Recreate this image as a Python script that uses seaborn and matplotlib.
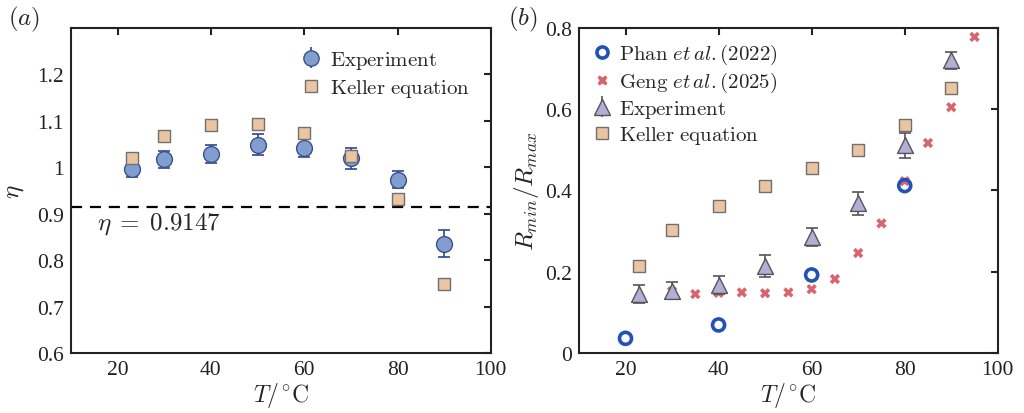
import numpy as np
import pandas as pd
import matplotlib
matplotlib.use("Agg")
import matplotlib.pyplot as plt
import seaborn as sns

sns.set_theme(style="white")
plt.rcParams['font.family'] = ['Liberation Serif', 'DejaVu Serif']
plt.rcParams['mathtext.fontset'] = 'cm'

# ---- Panel (a) data ----
T_a = [23, 30, 40, 50, 60, 70, 80, 90]
eta_exp = [0.997, 1.017, 1.029, 1.049, 1.041, 1.019, 0.973, 0.835]
eta_err = [0.017, 0.019, 0.019, 0.022, 0.019, 0.022, 0.018, 0.029]
eta_keller = [1.019, 1.068, 1.090, 1.093, 1.074, 1.024, 0.932, 0.748]
eta_line = 0.9147

# ---- Panel (b) data ----
T_phan = [20, 40, 60, 80]
r_phan = [0.036, 0.069, 0.192, 0.412]
T_geng = [30, 35, 40, 45, 50, 55, 60, 65, 70, 75, 80, 85, 90, 95]
r_geng = [0.152, 0.145, 0.148, 0.149, 0.147, 0.149, 0.157, 0.182, 0.246, 0.319, 0.423, 0.517, 0.605, 0.778]
T_b = [23, 30, 40, 50, 60, 70, 80, 90]
r_exp = [0.145, 0.153, 0.168, 0.214, 0.286, 0.368, 0.511, 0.720]
r_err = [0.022, 0.021, 0.022, 0.028, 0.022, 0.028, 0.030, 0.020]
r_keller = [0.214, 0.303, 0.362, 0.411, 0.455, 0.500, 0.562, 0.653]

xticks = [20, 40, 60, 80, 100]

c_exp_fill = '#809FD0'
c_exp_edge = '#3A4F8C'
c_err_a = '#2E4690'
c_keller = '#EBC4A2'
c_keller_edge = '#707070'
c_phan = '#2451B5'
c_geng = '#D9646E'
c_tri = '#B4AED6'
c_tri_edge = '#555555'

fig = plt.figure(figsize=(10.24, 4.14), dpi=100)
axA = fig.add_axes([0.0693, 0.145, 0.410, 0.785])
axB = fig.add_axes([0.5654, 0.145, 0.409, 0.785])

fs_tick = 15.5
fs_lab = 17
fs_leg = 15

# ---------- Panel (a) ----------
dfa = pd.DataFrame({'T': T_a, 'exp': eta_exp, 'err': eta_err, 'keller': eta_keller})
axA.axhline(eta_line, color='black', ls=(0, (5, 3.5)), lw=1.6, zorder=1)
axA.errorbar(dfa['T'], dfa['exp'], yerr=dfa['err'], fmt='none', ecolor=c_err_a,
             elinewidth=1.2, capsize=4.5, capthick=1.2, zorder=2)
sns.scatterplot(data=dfa, x='T', y='exp', ax=axA, marker='o', s=130, color=c_exp_fill,
                edgecolor=c_exp_edge, linewidth=1.0, zorder=3, legend=False)
sns.scatterplot(data=dfa, x='T', y='keller', ax=axA, marker='s', s=85, color=c_keller,
                edgecolor=c_keller_edge, linewidth=1.0, zorder=4, legend=False)
axA.set_xlim(10, 100)
axA.set_ylim(0.6, 1.3)
axA.set_xticks(xticks)
axA.set_yticks([0.6, 0.7, 0.8, 0.9, 1.0, 1.1, 1.2])
axA.set_yticklabels(['0.6', '0.7', '0.8', '0.9', '1', '1.1', '1.2'])
axA.set_xlabel(r'$T/^{\circ}\mathrm{C}$', fontsize=fs_lab, labelpad=1)
axA.set_ylabel(r'$\eta$', fontsize=fs_lab + 1, labelpad=8)
axA.text(15.5, 0.879, r'$\eta\;=\;0.9147$', fontsize=18, ha='left', va='center')

hA1 = axA.errorbar([], [], yerr=[], fmt='o', ms=11, mfc=c_exp_fill, mec=c_exp_edge,
                   ecolor=c_err_a, capsize=4.5, elinewidth=1.2)
hA2 = plt.Line2D([], [], ls='none', marker='s', ms=9, mfc=c_keller, mec=c_keller_edge)
axA.legend([hA1, hA2], [r'$\mathrm{Experiment}$', r'$\mathrm{Keller\ equation}$'],
           loc='upper left', bbox_to_anchor=(0.548, 0.935), frameon=False,
           fontsize=fs_leg, handlelength=1.0, handletextpad=0.4, labelspacing=0.28,
           borderpad=0, borderaxespad=0)
axA.text(-0.15, 1.028, r'$(a)$', transform=axA.transAxes, fontsize=18, ha='left', va='center')

# ---------- Panel (b) ----------
dfb = pd.DataFrame({'T': T_b, 'exp': r_exp, 'err': r_err, 'keller': r_keller})
dfp = pd.DataFrame({'T': T_phan, 'r': r_phan})
dfg = pd.DataFrame({'T': T_geng, 'r': r_geng})

sns.scatterplot(data=dfg, x='T', y='r', ax=axB, marker='X', s=55, color=c_geng,
                edgecolor='none', zorder=2, legend=False)
axB.errorbar(dfb['T'], dfb['exp'], yerr=dfb['err'], fmt='none', ecolor=c_tri_edge,
             elinewidth=1.2, capsize=4.5, capthick=1.2, zorder=3)
sns.scatterplot(data=dfb, x='T', y='exp', ax=axB, marker='^', s=130, color=c_tri,
                edgecolor=c_tri_edge, linewidth=1.0, zorder=4, legend=False)
sns.scatterplot(data=dfb, x='T', y='keller', ax=axB, marker='s', s=85, color=c_keller,
                edgecolor=c_keller_edge, linewidth=1.0, zorder=4, legend=False)
sns.scatterplot(data=dfp, x='T', y='r', ax=axB, marker='o', s=75, facecolor='none',
                edgecolor=c_phan, linewidth=2.6, zorder=5, legend=False)
axB.set_xlim(10, 100)
axB.set_ylim(0, 0.8)
axB.set_xticks(xticks)
axB.set_yticks([0, 0.2, 0.4, 0.6, 0.8])
axB.set_yticklabels(['0', '0.2', '0.4', '0.6', '0.8'])
axB.set_xlabel(r'$T/^{\circ}\mathrm{C}$', fontsize=fs_lab, labelpad=1)
axB.set_ylabel(r'$R_{min}/R_{max}$', fontsize=fs_lab + 1, labelpad=3)

hB1 = plt.Line2D([], [], ls='none', marker='o', ms=8, mfc='none', mec=c_phan, mew=2.6)
hB2 = plt.Line2D([], [], ls='none', marker='X', ms=7.5, mfc=c_geng, mec='none')
hB3 = axB.errorbar([], [], yerr=[], fmt='^', ms=11, mfc=c_tri, mec=c_tri_edge,
                   ecolor=c_tri_edge, capsize=4.5, elinewidth=1.2)
hB4 = plt.Line2D([], [], ls='none', marker='s', ms=9, mfc=c_keller, mec=c_keller_edge)
axB.legend([hB1, hB2, hB3, hB4],
           [r'$\mathrm{Phan}\ et\,al.\mathrm{(2022)}$', r'$\mathrm{Geng}\ et\,al.\mathrm{(2025)}$',
            r'$\mathrm{Experiment}$', r'$\mathrm{Keller\ equation}$'],
           loc='upper left', bbox_to_anchor=(0.036, 0.957), frameon=False,
           fontsize=fs_leg, handlelength=0.8, handletextpad=0.4, labelspacing=0.19,
           borderpad=0, borderaxespad=0)
axB.text(-0.17, 1.028, r'$(b)$', transform=axB.transAxes, fontsize=18, ha='left', va='center')

for ax in (axA, axB):
    for sp in ax.spines.values():
        sp.set_visible(True)
        sp.set_color('#222222')
        sp.set_linewidth(1.5)
    ax.tick_params(direction='in', length=5, width=1.5, top=True, right=True,
                   labelsize=fs_tick, colors='#222222', pad=5)

fig.savefig('out.png', dpi=100)
